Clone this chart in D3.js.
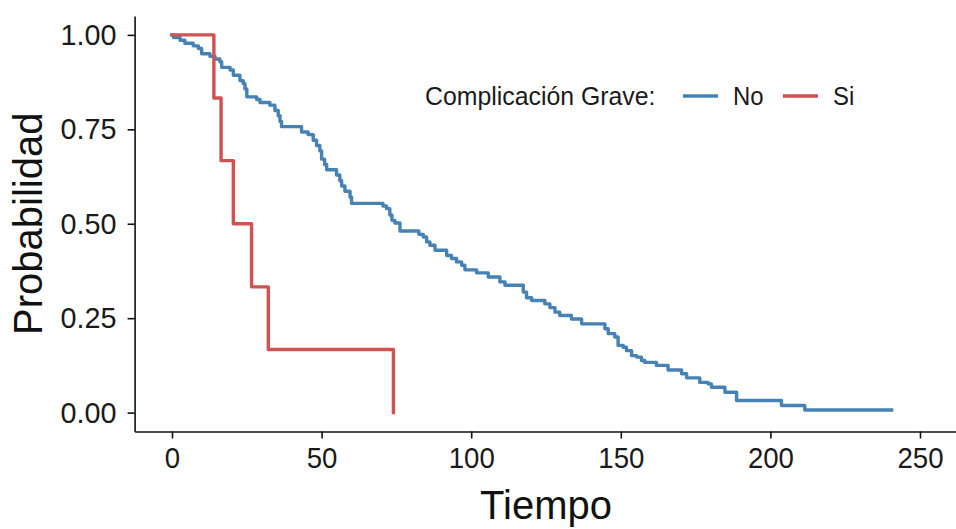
<!DOCTYPE html>
<html>
<head>
<meta charset="utf-8">
<script src="https://cdn.jsdelivr.net/npm/d3@7"></script>
<style>
  html, body { margin: 0; padding: 0; background: #fff; }
  svg { display: block; font-family: "Liberation Sans", Arial, sans-serif; }
</style>
</head>
<body>
<svg id="chart" width="956" height="529"></svg>
<script>
// ---- data ----
const groups = ["No", "Si"];
const groupColors = ["#4682B4", "#D05252"];
const legendTitle = "Complicación Grave:";
const xTicks = [0, 50, 100, 150, 200, 250];
const yTicks = [0, 0.25, 0.5, 0.75, 1];
const yTickLabels = ["0.00", "0.25", "0.50", "0.75", "1.00"];

const noTime = [0, 0.5, 2.7, 4.3, 7.1, 8.8, 9.9, 12.7, 14.4, 16.0, 16.6, 19.4, 20.5, 22.7, 23.8, 24.4, 25.0, 28.3, 29.4, 32.7, 34.4, 35.5, 36.1, 36.6, 43.3, 45.5, 47.2, 48.3, 49.4, 50.0, 51.0, 51.7, 55.0, 56.1, 56.7, 57.8, 59.5, 60.0, 70.5, 71.7, 72.8, 73.5, 74.5, 76.2, 82.5, 84.0, 85.1, 86.2, 87.9, 91.8, 93.4, 95.1, 96.8, 97.9, 101.8, 105.7, 109.6, 111.3, 117.4, 118.5, 120.2, 124.6, 126.3, 128.0, 129.6, 133.5, 136.9, 144.7, 145.8, 148.0, 149.1, 150.8, 151.9, 153.6, 155.3, 156.9, 158.0, 161.9, 165.8, 170.3, 172.0, 176.4, 179.2, 180.3, 184.8, 188.7, 203.7, 211.5, 240.5];
const noSurv = [1.0, 0.993, 0.986, 0.978, 0.971, 0.964, 0.950, 0.943, 0.936, 0.929, 0.914, 0.907, 0.893, 0.879, 0.871, 0.857, 0.836, 0.829, 0.821, 0.814, 0.800, 0.786, 0.771, 0.757, 0.743, 0.736, 0.721, 0.707, 0.693, 0.671, 0.657, 0.643, 0.629, 0.614, 0.600, 0.586, 0.571, 0.554, 0.547, 0.540, 0.523, 0.509, 0.502, 0.481, 0.472, 0.465, 0.452, 0.443, 0.430, 0.416, 0.408, 0.399, 0.390, 0.378, 0.370, 0.359, 0.346, 0.337, 0.319, 0.304, 0.297, 0.288, 0.278, 0.266, 0.257, 0.248, 0.235, 0.222, 0.209, 0.200, 0.178, 0.173, 0.164, 0.151, 0.147, 0.138, 0.133, 0.125, 0.113, 0.103, 0.092, 0.080, 0.076, 0.067, 0.054, 0.032, 0.019, 0.007, 0.007];

const siTime = [0, 14, 16.4, 20.5, 26.6, 32.2, 74];
const siSurv = [1.0, 0.833, 0.667, 0.5, 0.333, 0.167, 0];

// ---- layout ----
const svg = d3.select("#chart");
const x = d3.scaleLinear().domain([-12.5, 262.5]).range([134.6, 957.4]);
const y = d3.scaleLinear().domain([-0.05, 1.05]).range([431.5, 16]);

const line = d3.line()
  .x(d => x(d[0]))
  .y(d => y(d[1]))
  .curve(d3.curveStepAfter);

const series = [
  d3.zip(noTime, noSurv),
  d3.zip(siTime, siSurv)
];

svg.selectAll("path.curve")
  .data(series)
  .join("path")
  .attr("class", "curve")
  .attr("d", d => line(d))
  .attr("fill", "none")
  .attr("stroke", (d, i) => groupColors[i])
  .attr("stroke-width", 3.4)
  .attr("stroke-linejoin", "round")
  .attr("stroke-linecap", "square");

// condense text horizontally (the reference font looks slightly narrow)
function condense(sel, k) {
  sel.each(function () {
    const w = this.getComputedTextLength();
    d3.select(this).attr("textLength", w * k).attr("lengthAdjust", "spacingAndGlyphs");
  });
}

// ---- axes ----
const xAxis = d3.axisBottom(x).tickValues(xTicks).tickSize(7).tickSizeOuter(0).tickPadding(8);
const gx = svg.append("g").attr("transform", "translate(0," + y.range()[0] + ")").call(xAxis);
gx.select(".domain").attr("stroke", "#111").attr("stroke-width", 1.6);
gx.selectAll(".tick line").attr("stroke", "#111").attr("stroke-width", 1.6);
gx.selectAll(".tick text").attr("font-size", 30).attr("fill", "#1a1a1a")
  .attr("font-family", "'Liberation Sans', Arial, sans-serif")
  .call(condense, 0.92);

const yAxis = d3.axisLeft(y).tickValues(yTicks).tickFormat((d, i) => yTickLabels[i]).tickSize(7).tickSizeOuter(0).tickPadding(11);
const gy = svg.append("g").attr("transform", "translate(" + x.range()[0] + ",0)").call(yAxis);
gy.select(".domain").attr("stroke", "#111").attr("stroke-width", 1.6);
gy.selectAll(".tick line").attr("stroke", "#111").attr("stroke-width", 1.6);
gy.selectAll(".tick text").attr("font-size", 30).attr("fill", "#1a1a1a")
  .attr("font-family", "'Liberation Sans', Arial, sans-serif")
  .call(condense, 0.96);

// ---- axis titles ----
svg.append("text")
  .attr("x", (x.range()[0] + x.range()[1]) / 2)
  .attr("y", 519)
  .attr("text-anchor", "middle")
  .attr("font-size", 40)
  .attr("fill", "#111")
  .text("Tiempo");

svg.append("text")
  .attr("transform", "translate(42," + ((y.range()[0] + y.range()[1]) / 2) + ") rotate(-90)")
  .attr("text-anchor", "middle")
  .attr("font-size", 40)
  .attr("fill", "#111")
  .text("Probabilidad");

// ---- legend ----
const lg = svg.append("g").attr("transform", "translate(425,96)");
lg.append("text")
  .attr("x", 0).attr("y", 0).attr("dy", "0.35em")
  .attr("font-size", 26).attr("fill", "#1a1a1a")
  .text(legendTitle)
  .call(condense, 0.955);
const keyX = [258, 358];
groups.forEach((g, i) => {
  lg.append("line")
    .attr("x1", keyX[i]).attr("x2", keyX[i] + 35)
    .attr("y1", 0).attr("y2", 0)
    .attr("stroke", groupColors[i]).attr("stroke-width", 3.4);
  lg.append("text")
    .attr("x", keyX[i] + 50).attr("y", 0).attr("dy", "0.35em")
    .attr("font-size", 26).attr("fill", "#1a1a1a")
    .text(g)
    .call(condense, 0.92);
});
</script>
</body>
</html>
